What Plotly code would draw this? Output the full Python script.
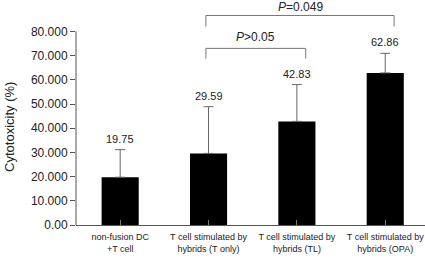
import plotly.graph_objects as go

categories = ["non-fusion DC<br>+T cell", "T cell stimulated by<br>hybrids (T only)",
              "T cell stimulated by<br>hybrids (TL)", "T cell stimulated by<br>hybrids (OPA)"]
values = [19.75, 29.59, 42.83, 62.86]
errors = [11.4, 19.3, 15.2, 8.1]
ytick_vals = [0, 10, 20, 30, 40, 50, 60, 70, 80]
ytick_text = ["0.00", "10.000", "20.000", "30.000", "40.000", "50.000", "60.000", "70.000", "80.000"]

FONT = "Liberation Sans, Arial, sans-serif"
YMAX = 93
xs = list(range(len(categories)))

fig = go.Figure()
fig.add_trace(go.Bar(
    x=xs, y=values, width=0.42, marker=dict(color="black", line=dict(width=0)),
    error_y=dict(type="data", array=errors, arrayminus=[0]*4, symmetric=False,
                 color="#666666", thickness=1, width=5),
    hoverinfo="skip",
))

annotations = []
for i, (v, e) in enumerate(zip(values, errors)):
    annotations.append(dict(x=i, y=v + e, xref="x", yref="y", text=f"{v:.2f}", showarrow=False,
                            yanchor="bottom", yshift=3, font=dict(family=FONT, size=11, color="#222")))

shapes = []
def bracket(x0, x1, ytop, ybot):
    for (a, b, c, d) in [(x0, ybot, x0, ytop), (x0, ytop, x1, ytop), (x1, ytop, x1, ybot)]:
        shapes.append(dict(type="line", xref="x", yref="y", x0=a, y0=b, x1=c, y1=d,
                           line=dict(color="#777777", width=1)))

bracket(0.97, 2.1, 73.0, 68.8)
bracket(0.97, 3.1, 86.6, 82.1)
annotations.append(dict(x=1.53, y=77.6, xref="x", yref="y", text="<i>P</i>>0.05", showarrow=False,
                        font=dict(family=FONT, size=12, color="#222")))
annotations.append(dict(x=2.04, y=YMAX, xref="x", yref="y", text="<i>P</i>=0.049", showarrow=False,
                        yanchor="top", borderpad=0, yshift=1,
                        font=dict(family=FONT, size=12, color="#222")))
# y axis line from 0 to 80
shapes.append(dict(type="line", xref="paper", yref="paper", x0=0, x1=0, y0=0, y1=80 / YMAX,
                   line=dict(color="#555555", width=1)))
annotations.append(dict(x=-0.189, y=0.436, xref="paper", yref="paper", text="Cytotoxicity (%)",
                        xanchor="center", yanchor="middle",
                        textangle=-90, showarrow=False, font=dict(family=FONT, size=13, color="#222")))

fig.update_layout(
    width=425, height=260, margin=dict(l=76, r=0, t=0, b=35),
    paper_bgcolor="white", plot_bgcolor="white", showlegend=False,
    annotations=annotations, shapes=shapes,
    xaxis=dict(range=[-0.5, 3.45], tickvals=xs, ticktext=categories, showline=True,
               linecolor="#555555", linewidth=1, ticks="inside", tickson="boundaries",
               ticklen=5, tickcolor="#777777", showgrid=False, zeroline=False,
               tickangle=0, automargin=False, ticklabeloverflow="allow", ticklabelstandoff=3,
               tickfont=dict(family=FONT, size=9, color="#222")),
    yaxis=dict(range=[0, YMAX], tickvals=ytick_vals, ticktext=ytick_text, showline=False,
               ticks="outside", ticklen=5, tickcolor="#555555", showgrid=False, zeroline=False,
               automargin=False,
               tickfont=dict(family=FONT, size=12, color="#222")),
)
fig.write_html("out.html", config={"displayModeBar": False},
               post_script="document.body.style.margin='0';")
